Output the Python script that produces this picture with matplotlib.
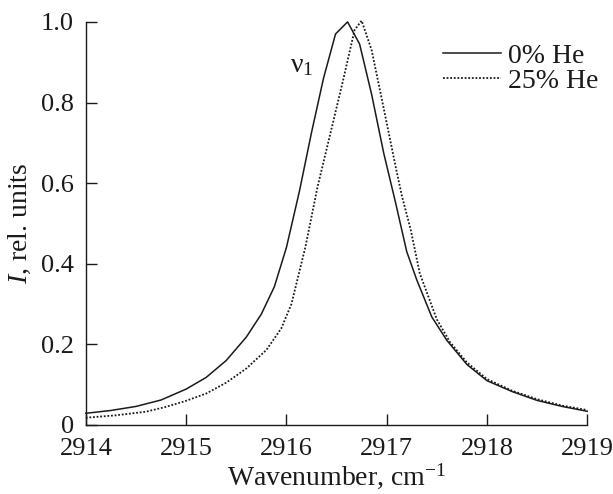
import matplotlib
matplotlib.use("Agg")
from matplotlib import pyplot as plt

plt.rcParams['font.family'] = ['Liberation Serif', 'DejaVu Serif']
plt.rcParams['mathtext.fontset'] = 'custom'
plt.rcParams['mathtext.rm'] = 'Liberation Serif'
plt.rcParams['mathtext.it'] = 'Liberation Serif:italic'

# 0% He (solid)
x_he0 = [2914.0, 2914.25, 2914.5, 2914.75, 2915.0, 2915.2, 2915.4, 2915.6,
         2915.75, 2915.88, 2916.0, 2916.13, 2916.25, 2916.37, 2916.49,
         2916.61, 2916.73, 2916.85, 2916.97, 2917.09, 2917.2, 2917.3,
         2917.45, 2917.6, 2917.8, 2918.0, 2918.25, 2918.5, 2918.75, 2919.0]
y_he0 = [0.029, 0.036, 0.046, 0.062, 0.089, 0.118, 0.160, 0.218,
         0.275, 0.343, 0.440, 0.580, 0.725, 0.860, 0.970,
         1.000, 0.945, 0.820, 0.675, 0.550, 0.430, 0.360,
         0.268, 0.210, 0.150, 0.110, 0.083, 0.061, 0.046, 0.034]

# 25% He (dotted)
x_he25 = [2914.0, 2914.3, 2914.6, 2914.8, 2915.0, 2915.2, 2915.4, 2915.6,
          2915.8, 2915.95, 2916.05, 2916.19, 2916.31, 2916.45, 2916.57,
          2916.68, 2916.75, 2916.85, 2916.97, 2917.09, 2917.15, 2917.24,
          2917.33, 2917.5, 2917.63, 2917.8, 2918.0, 2918.25, 2918.5,
          2918.75, 2919.0]
y_he25 = [0.018, 0.024, 0.033, 0.045, 0.060, 0.078, 0.105, 0.140,
          0.186, 0.240, 0.300, 0.442, 0.590, 0.735, 0.860,
          0.980, 1.003, 0.930, 0.786, 0.640, 0.570, 0.484,
          0.376, 0.262, 0.206, 0.155, 0.114, 0.085, 0.064,
          0.048, 0.037]

fig = plt.figure(figsize=(6.13, 4.94), dpi=100)
ax = fig.add_axes([0.140, 0.1397, 0.818, 0.816])

ax.plot(x_he0, y_he0, color='#1a1a1a', lw=1.1, label='0% He', clip_on=False)
ax.plot(x_he25, y_he25, color='#1a1a1a', lw=1.3, linestyle=(0, (1, 1)),
        label='25% He', clip_on=False)

ax.set_xlim(2914, 2919)
ax.set_ylim(0, 1.0)
ax.set_xticks([2914, 2915, 2916, 2917, 2918, 2919])
ax.set_yticks([0, 0.2, 0.4, 0.6, 0.8, 1.0])
ax.set_yticklabels(['0', '0.2', '0.4', '0.6', '0.8', '1.0'])

for s in ['top', 'right']:
    ax.spines[s].set_visible(False)
for s in ['left', 'bottom']:
    ax.spines[s].set_linewidth(1.0)
    ax.spines[s].set_color('#1a1a1a')

ax.tick_params(direction='in', length=8, width=1.0, labelsize=19,
               colors='#1a1a1a')
ax.tick_params(axis='x', pad=9.5)
ax.tick_params(axis='y', pad=8.5)

ax.set_xlabel('Wavenumber, cm$^{\\mathregular{-1}}$', fontsize=20,
              color='#1a1a1a', labelpad=0.5)
ax.set_ylabel('$I$, rel. units', fontsize=20, color='#1a1a1a', labelpad=6)

ax.text(2916.04, 0.876, 'ν$_{\\mathregular{1}}$', fontsize=20, color='#1a1a1a')

leg = ax.legend(loc='upper right', bbox_to_anchor=(1.045, 0.975), frameon=False,
                fontsize=20, handlelength=2.1, handletextpad=0.25,
                labelspacing=0.0, borderaxespad=0.0)
for t in leg.get_texts():
    t.set_color('#1a1a1a')

fig.savefig('out.png', dpi=100)
